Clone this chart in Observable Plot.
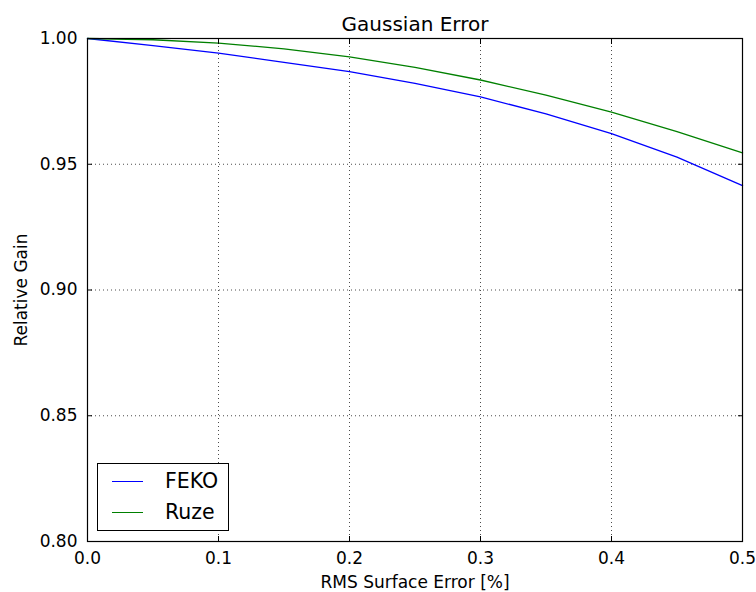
<!DOCTYPE html>
<html>
<head>
<meta charset="utf-8">
<script src="https://cdn.jsdelivr.net/npm/d3@7"></script>
<script src="https://cdn.jsdelivr.net/npm/@observablehq/plot@0.6"></script>
<style>
  html, body { margin: 0; padding: 0; background: #fff; }
  #wrap { position: relative; width: 756px; height: 592px; font-family: "DejaVu Sans", sans-serif; }
  #legend { position: absolute; left: 97px; top: 463px; width: 130px; height: 66px; border: 1px solid #000; background: #fff; box-sizing: content-box; }
  .item { position: absolute; left: 0; height: 24px; }
  .swatch { position: absolute; left: 14px; width: 31px; height: 1.4px; }
  .lab { position: absolute; left: 67px; font-size: 20.5px; line-height: 24px; white-space: nowrap; color: #000; }
</style>
</head>
<body>
<div id="wrap"></div>
<script>
const title = "Gaussian Error";
const xLabel = "RMS Surface Error [%]";
const yLabel = "Relative Gain";
const errors = [0, 0.05, 0.10, 0.15, 0.20, 0.25, 0.30, 0.35, 0.40, 0.45, 0.50];
const feko = [1.0, 0.9972, 0.9942, 0.9905, 0.9868, 0.9822, 0.9768, 0.9700, 0.9622, 0.9528, 0.9415];
const ruze = [1.0, 0.9995, 0.9982, 0.9959, 0.9927, 0.9885, 0.9835, 0.9775, 0.9707, 0.9630, 0.9545];
const seriesNames = ["FEKO", "Ruze"];
const seriesColors = ["#0000ff", "#008000"];
const xTicks = [0, 0.1, 0.2, 0.3, 0.4, 0.5];
const yTicks = [0.80, 0.85, 0.90, 0.95, 1.00];

const data = [];
errors.forEach((e, i) => {
  data.push({x: e, y: feko[i], s: seriesNames[0]});
  data.push({x: e, y: ruze[i], s: seriesNames[1]});
});

const font = 17;
const chart = Plot.plot({
  width: 756,
  height: 592,
  marginLeft: 87,
  marginRight: 14,
  marginTop: 38,
  marginBottom: 51,
  style: {fontFamily: "DejaVu Sans, sans-serif", fontSize: font + "px", background: "#fff", color: "#000"},
  x: {domain: [0, 0.5], axis: null},
  y: {domain: [0.8, 1.0], axis: null},
  color: {domain: seriesNames, range: seriesColors},
  marks: [
    Plot.gridX(xTicks, {stroke: "#000", strokeOpacity: 0.7, strokeDasharray: "1,3", strokeWidth: 1}),
    Plot.gridY(yTicks, {stroke: "#000", strokeOpacity: 0.7, strokeDasharray: "1,3", strokeWidth: 1}),
    Plot.line(data, {x: "x", y: "y", z: "s", stroke: "s", strokeWidth: 1.3}),
    Plot.frame({stroke: "#000", strokeWidth: 1.2}),
    // inward ticks
    Plot.axisX(xTicks, {anchor: "bottom", tickSize: 5, dy: -5, tickFormat: () => "", label: null}),
    Plot.axisX(xTicks, {anchor: "top", tickSize: 5, dy: 5, tickFormat: () => "", label: null}),
    Plot.axisY(yTicks, {anchor: "left", tickSize: 5, dx: 5, tickFormat: () => "", label: null}),
    Plot.axisY(yTicks, {anchor: "right", tickSize: 5, dx: -5, tickFormat: () => "", label: null}),
    // tick labels
    Plot.axisX(xTicks, {anchor: "bottom", tickSize: 0, tickPadding: 10, tickFormat: d3.format(".1f"), label: null, fontSize: font}),
    Plot.axisY(yTicks, {anchor: "left", tickSize: 0, tickPadding: 10, tickFormat: d3.format(".2f"), label: null, fontSize: font}),
    // titles
    Plot.text([title], {frameAnchor: "top", text: d => d, dy: -14, textAnchor: "middle", lineAnchor: "middle", fontSize: 20}),
    Plot.text([xLabel], {frameAnchor: "bottom", text: d => d, dy: 41, textAnchor: "middle", lineAnchor: "middle", fontSize: font}),
    Plot.text([yLabel], {frameAnchor: "left", text: d => d, dx: -66, rotate: -90, textAnchor: "middle", lineAnchor: "middle", fontSize: font})
  ]
});

const wrap = document.getElementById("wrap");
wrap.appendChild(chart);

const legend = document.createElement("div");
legend.id = "legend";
seriesNames.forEach((name, i) => {
  const item = document.createElement("div");
  item.className = "item";
  item.style.top = (5 + i * 31) + "px";
  item.style.width = "130px";
  const sw = document.createElement("div");
  sw.className = "swatch";
  sw.style.background = seriesColors[i];
  sw.style.top = "11.5px";
  const lab = document.createElement("div");
  lab.className = "lab";
  lab.textContent = name;
  lab.style.top = "0px";
  item.appendChild(sw);
  item.appendChild(lab);
  legend.appendChild(item);
});
wrap.appendChild(legend);
</script>
</body>
</html>
